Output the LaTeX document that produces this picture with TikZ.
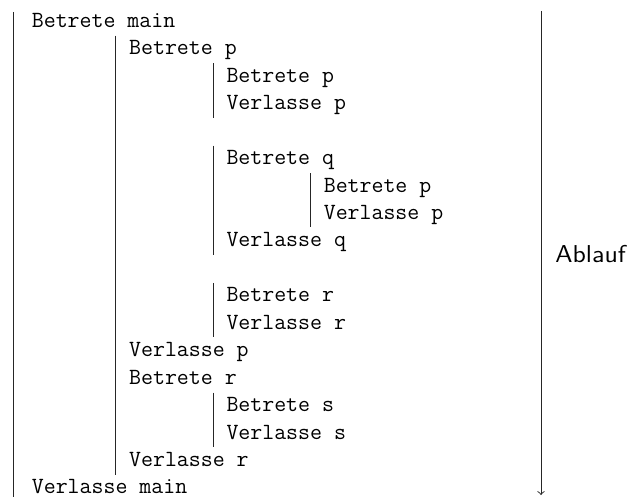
\documentclass[tikz,border=0pt]{standalone}
\usepackage{fontspec}
\newfontfamily\monof{Latin Modern Mono}
\newfontfamily\sansf{Latin Modern Sans}[FakeStretch=1.09]
\begin{document}
\begin{tikzpicture}[x=0.5pt,y=-0.5pt,
  line/.style={text=black, inner sep=0pt, anchor=base west, font=\monof\fontsize{11.6}{14}\selectfont},
  bar/.style={line width=0.45pt, black!85},
  flow/.style={line width=0.45pt, black!85, ->}]
\useasboundingbox (0,0) rectangle (635,497);
% text lines
\node[line] (r0)  at (31.5,27.3)   {Betrete main};
\node[line] (r1)  at (128.8,54.75) {Betrete p};
\node[line] (r2)  at (226.1,82.2)  {Betrete p};
\node[line] (r3)  at (226.1,109.65){Verlasse p};
\node[line] (r5)  at (226.1,164.55){Betrete q};
\node[line] (r6)  at (323.4,192.0) {Betrete p};
\node[line] (r7)  at (323.4,219.45){Verlasse p};
\node[line] (r8)  at (226.1,246.9) {Verlasse q};
\node[line] (r10) at (226.1,301.8) {Betrete r};
\node[line] (r11) at (226.1,329.25){Verlasse r};
\node[line] (r12) at (128.8,356.7) {Verlasse p};
\node[line] (r13) at (128.8,384.15){Betrete r};
\node[line] (r14) at (226.1,411.6) {Betrete s};
\node[line] (r15) at (226.1,439.05){Verlasse s};
\node[line] (r16) at (128.8,466.5) {Verlasse r};
\node[line] (r17) at (31.5,493.95) {Verlasse main};
% nesting bars
\draw[bar] (13,12) -- (13,497);
\draw[bar] (115,35.75) -- (115,474.5);
\draw[bar] (213,63.2) -- (213,117.65);
\draw[bar] (213,145.55) -- (213,254.9);
\draw[bar] (213,282.8) -- (213,337.25);
\draw[bar] (213,392.6) -- (213,447.05);
\draw[bar] (310,173) -- (310,227.45);
% flow arrow
\coordinate (atop) at (541,11);
\coordinate (abot) at (541,495);
\draw[flow] (atop) -- (abot);
\node[inner sep=0pt, anchor=base west, font=\sansf\fontsize{12.2}{14}\selectfont] (ablauf) at (555,262) {Ablauf};
\end{tikzpicture}
\end{document}
